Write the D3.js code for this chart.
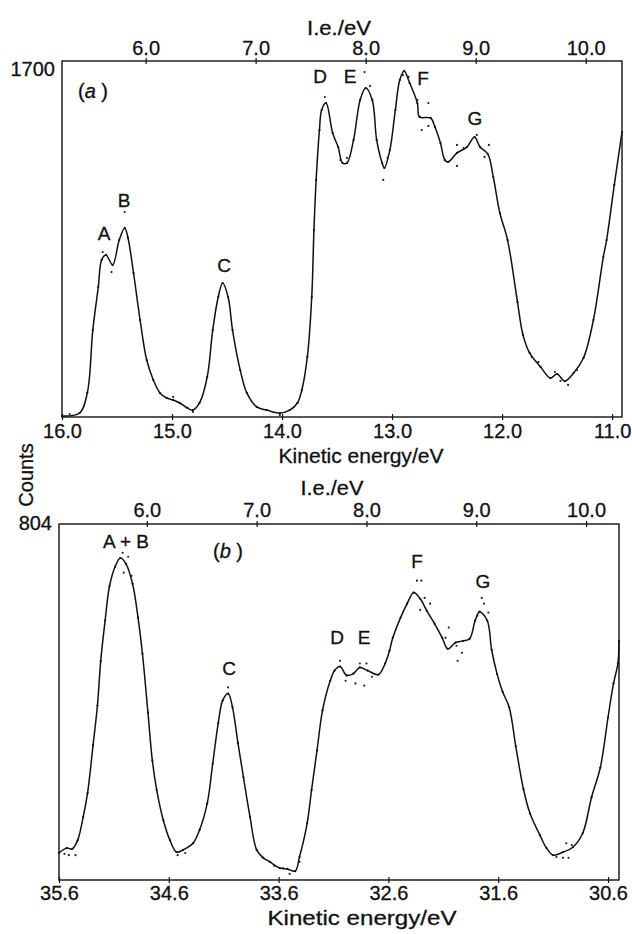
<!DOCTYPE html>
<html>
<head>
<meta charset="utf-8">
<script src="https://cdn.jsdelivr.net/npm/d3@7"></script>
<style>
  html, body { margin: 0; padding: 0; background: #fff; }
  svg { display: block; }
  text { font-family: "Liberation Sans", Arial, Helvetica, sans-serif; fill: #111; stroke: #111; stroke-width: 0.3; }
</style>
</head>
<body>
<svg id="chart" width="632" height="934"></svg>
<script>
// panel (a): He I spectrum
const aKE = [16.00, 15.84, 15.77, 15.72, 15.67, 15.64, 15.60, 15.54, 15.48, 15.43, 15.40, 15.35, 15.29, 15.23, 15.17, 15.11,
  15.05, 14.99, 14.93, 14.86, 14.81, 14.75, 14.68, 14.63, 14.58, 14.54, 14.49, 14.45, 14.38, 14.32, 14.23, 14.14,
  14.02, 13.93, 13.86, 13.82, 13.77, 13.73, 13.71, 13.69, 13.66, 13.64, 13.60, 13.54, 13.49, 13.45, 13.41, 13.35,
  13.29, 13.24, 13.18, 13.14, 13.09, 13.07, 13.02, 12.97, 12.93, 12.89, 12.84, 12.77, 12.75, 12.65, 12.61, 12.56,
  12.52, 12.49, 12.41, 12.32, 12.25, 12.20, 12.13, 12.08, 12.02, 11.95, 11.86, 11.81, 11.75, 11.65, 11.56, 11.50,
  11.43, 11.35, 11.26, 11.17, 11.08, 11.05, 10.98, 10.91];
const aCounts = [5, 19, 115, 415, 621, 750, 774, 726, 845, 903, 855, 688, 463, 272, 177, 115,
  91, 81, 67, 43, 33, 67, 191, 415, 573, 640, 573, 415, 224, 115, 48, 33,
  19, 33, 67, 129, 287, 573, 893, 1132, 1370, 1466, 1499, 1356, 1289, 1213, 1213, 1323,
  1514, 1571, 1514, 1323, 1213, 1189, 1275, 1466, 1609, 1652, 1595, 1499, 1433, 1428, 1385, 1308,
  1227, 1218, 1261, 1289, 1337, 1289, 1256, 1146, 974, 845, 549, 392, 306, 239, 186, 205,
  172, 210, 282, 463, 764, 845, 1108, 1361];
// scattered raw points
const aRawKE = [15.63, 15.55, 15.43, 13.61, 13.47, 13.41, 13.25, 13.20, 13.08, 13.04, 12.90, 12.85, 12.77, 12.67,
  12.73, 12.67, 12.41, 12.35, 12.23, 12.16, 12.12, 12.41, 11.73, 11.67, 11.52, 11.47, 11.40, 11.32, 14.99, 14.81, 14.02, 15.93];
const aRawCounts = [788, 692, 979, 1528, 1227, 1237, 1647, 1581, 1132, 1237, 1633, 1624, 1514, 1499,
  1370, 1390, 1299, 1284, 1347, 1242, 1299, 1199, 287, 263, 215, 172, 153, 224, 96, 24, 10, 14];
const aKETicks = [16.0, 15.0, 14.0, 13.0, 12.0, 11.0];
const aIETicks = [6.0, 7.0, 8.0, 9.0, 10.0];
const aPeaks = ["A", "B", "C", "D", "E", "F", "G"];

// panel (b): He II spectrum
const bKE = [35.60, 35.53, 35.48, 35.43, 35.38, 35.34, 35.29, 35.25, 35.22, 35.18, 35.14, 35.09, 35.04, 34.99, 34.93, 34.88,
  34.84, 34.79, 34.75, 34.71, 34.65, 34.59, 34.53, 34.47, 34.38, 34.32, 34.25, 34.20, 34.15, 34.11, 34.06, 34.02,
  33.97, 33.92, 33.86, 33.80, 33.74, 33.68, 33.59, 33.52, 33.45, 33.41, 33.34, 33.30, 33.25, 33.20, 33.13, 33.09,
  33.04, 32.98, 32.92, 32.86, 32.79, 32.69, 32.63, 32.59, 32.56, 32.49, 32.43, 32.37, 32.31, 32.25, 32.18, 32.11,
  32.06, 31.99, 31.92, 31.86, 31.81, 31.77, 31.70, 31.66, 31.61, 31.56, 31.50, 31.44, 31.37, 31.31, 31.22, 31.16,
  31.10, 31.01, 30.92, 30.83, 30.75, 30.67, 30.60, 30.55, 30.51, 30.50];
const bCounts = [61, 72, 70, 90, 142, 196, 304, 394, 495, 586, 664, 707, 727, 714, 669, 592,
  511, 378, 270, 203, 135, 90, 63, 68, 83, 113, 173, 263, 354, 405, 421, 390,
  309, 232, 142, 68, 50, 41, 27, 25, 20, 52, 128, 203, 293, 383, 450, 473,
  482, 462, 466, 480, 473, 464, 489, 518, 547, 592, 624, 649, 635, 608, 579, 547,
  522, 536, 540, 545, 586, 606, 586, 520, 465, 425, 390, 302, 205, 150, 101, 72,
  56, 63, 74, 106, 187, 254, 367, 444, 489, 540];
const bRawKE = [35.02, 34.97, 35.01, 34.94, 32.34, 32.30, 32.27, 32.22, 32.31, 31.75, 31.73, 31.79, 31.69, 32.05,
  31.98, 31.93, 31.97, 32.08, 33.04, 32.99, 32.90, 32.86, 32.80, 32.75, 32.82, 35.55, 35.51, 35.45, 34.52, 34.45,
  33.75, 33.64, 33.56, 33.50, 33.41, 31.07, 31.01, 30.96, 30.98, 30.93, 34.06];
const bRawCounts = [739, 730, 694, 687, 676, 676, 637, 624, 610, 637, 624, 597, 604, 570,
  529, 513, 495, 547, 495, 450, 444, 489, 489, 459, 439, 59, 56, 56, 56, 61,
  52, 32, 27, 14, 41, 52, 50, 50, 83, 79, 435];
const bKETicks = [35.6, 34.6, 33.6, 32.6, 31.6, 30.6];
const bIETicks = [6.0, 7.0, 8.0, 9.0, 10.0];
const bPeaks = ["A + B", "C", "D", "E", "F", "G"];

const svg = d3.select("#chart");

function drawPanel(p) {
  const x = d3.scaleLinear().domain(p.keDomain).range([p.left, p.right]);
  const y = d3.scaleLinear().domain([0, p.yMax]).range([p.bottom, p.top]);
  const g = svg.append("g");

  // frame
  g.append("rect")
    .attr("x", p.left).attr("y", p.top)
    .attr("width", p.right - p.left).attr("height", p.bottom - p.top)
    .attr("fill", "none").attr("stroke", "#111").attr("stroke-width", 1.4);

  // bottom axis (kinetic energy)
  const bottomAxis = d3.axisBottom(x).tickValues(p.keTicks).tickSize(3).tickFormat(d3.format(".1f"));
  const ba = g.append("g").attr("transform", `translate(0,${p.bottom})`).call(bottomAxis);
  ba.select(".domain").remove();
  ba.selectAll(".tick line").attr("y1", -3).attr("stroke", "#111").attr("stroke-width", 1.2);
  ba.selectAll(".tick text").attr("y", null).attr("dy", null)
    .attr("transform", `translate(0,${p.bottomLabelY - p.bottom})`)
    .style("font-size", "20px").attr("fill", "#111");

  // top axis (ionisation energy = hv - KE)
  const topAxis = d3.axisTop(x).tickValues(p.ieTicks.map(v => p.hv - v)).tickSize(3)
    .tickFormat(d => d3.format(".1f")(p.hv - d));
  const ta = g.append("g").attr("transform", `translate(0,${p.top})`).call(topAxis);
  ta.select(".domain").remove();
  ta.selectAll(".tick line").attr("y1", 3).attr("stroke", "#111").attr("stroke-width", 1.2);
  ta.selectAll(".tick text").attr("y", null).attr("dy", null)
    .attr("transform", `translate(0,${p.topLabelY - p.top})`)
    .style("font-size", "20px").attr("fill", "#111");

  // top-left count label
  g.append("text").attr("x", p.left - 7).attr("y", p.yLabelY)
    .attr("text-anchor", "end").style("font-size", "20px").text(p.yMax);

  // axis titles
  g.append("text").attr("x", p.ieTitleX).attr("y", p.ieTitleY)
    .attr("text-anchor", "middle").style("font-size", "20px")
    .attr("textLength", p.ieTitleW).attr("lengthAdjust", "spacingAndGlyphs").text("I.e./eV");
  g.append("text").attr("x", p.keTitleX).attr("y", p.keTitleY)
    .attr("text-anchor", "middle").style("font-size", "20px")
    .attr("textLength", p.keTitleW).attr("lengthAdjust", "spacingAndGlyphs").text("Kinetic energy/eV");

  // panel tag (a) / (b)
  const tag = g.append("text").attr("x", p.tagX).attr("y", p.tagY).style("font-size", "20px");
  tag.append("tspan").text("(");
  tag.append("tspan").style("font-style", "italic").text(p.tag);
  tag.append("tspan").text(" )");

  // spectrum
  const pts = p.ke.map((k, i) => [k, p.counts[i]]);
  const line = d3.line().x(d => x(d[0])).y(d => y(d[1])).curve(d3.curveCatmullRom.alpha(0.5));
  g.append("path").datum(pts)
    .attr("d", line).attr("fill", "none").attr("stroke", "#111").attr("stroke-width", 1.5);

  // data points on the curve and scattered raw counts
  g.selectAll("circle.on").data(pts).join("circle").attr("class", "on")
    .attr("cx", d => x(d[0])).attr("cy", d => y(d[1])).attr("r", 1.1).attr("fill", "#111");
  g.selectAll("circle.raw").data(p.rawKE.map((k, i) => [k, p.rawCounts[i]])).join("circle").attr("class", "raw")
    .attr("cx", d => x(d[0])).attr("cy", d => y(d[1])).attr("r", 1.1).attr("fill", "#222");

  // peak letters
  g.selectAll("text.peak").data(p.peaks).join("text").attr("class", "peak")
    .attr("x", (d, i) => p.peakPos[i][0]).attr("y", (d, i) => p.peakPos[i][1])
    .attr("text-anchor", "middle").style("font-size", "19px").text(d => d);
}

drawPanel({
  ke: aKE, counts: aCounts, rawKE: aRawKE, rawCounts: aRawCounts,
  keTicks: aKETicks, ieTicks: aIETicks, peaks: aPeaks, hv: 21.24,
  keDomain: [16.0, 10.91], yMax: 1700,
  left: 62, right: 622, top: 61, bottom: 417,
  bottomLabelY: 438, topLabelY: 55, yLabelY: 76,
  ieTitleX: 339, ieTitleY: 35, ieTitleW: 64,
  keTitleX: 361, keTitleY: 463, keTitleW: 165,
  tag: "a", tagX: 78, tagY: 98,
  peakPos: [[104, 240], [124, 207], [224, 272], [320, 83], [350, 83], [423, 85], [475, 125]]
});

drawPanel({
  ke: bKE, counts: bCounts, rawKE: bRawKE, rawCounts: bRawCounts,
  keTicks: bKETicks, ieTicks: bIETicks, peaks: bPeaks, hv: 40.8,
  keDomain: [35.6, 30.5], yMax: 804,
  left: 59, right: 619, top: 524, bottom: 880,
  bottomLabelY: 900, topLabelY: 517, yLabelY: 530,
  ieTitleX: 332, ieTitleY: 495, ieTitleW: 63,
  keTitleX: 362, keTitleY: 925, keTitleW: 189,
  tag: "b", tagX: 213, tagY: 558,
  peakPos: [[126, 548], [229, 675], [337, 644], [364, 644], [417, 568], [483, 588]]
});

// shared y label
svg.append("text")
  .attr("transform", "translate(33,475) rotate(-90)")
  .attr("text-anchor", "middle").style("font-size", "20px").text("Counts");
</script>
</body>
</html>
